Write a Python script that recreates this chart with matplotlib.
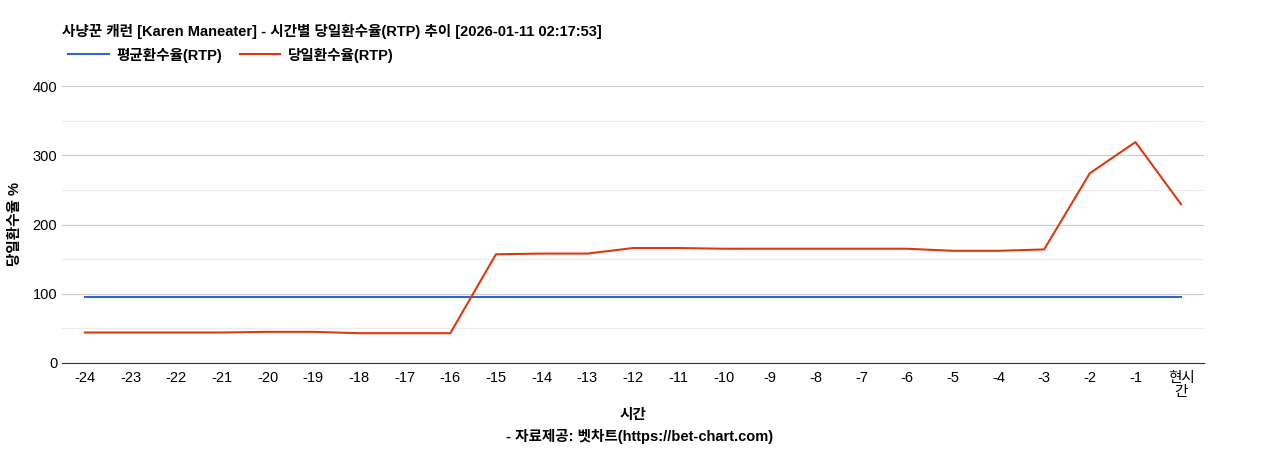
import matplotlib
matplotlib.use("Agg")
import matplotlib.pyplot as plt

plt.rcParams['font.family'] = ['Liberation Sans', 'Noto Sans CJK KR', 'DejaVu Sans']

labels = [str(i) for i in range(-24, 0)] + ["현시\n간"]
rtp_day = [44, 44, 44, 44, 45, 45, 43, 43, 43, 157, 158, 158, 166, 166, 165, 165, 165, 165, 165, 162, 162, 164, 274, 319, 229]
rtp_avg = [96] * 25

fig = plt.figure(figsize=(12.68, 4.5), dpi=100)
ax = fig.add_axes([62/1268, 1-363/450, (1204-62)/1268, 277/450])
x = list(range(len(labels)))
ax.plot(x, rtp_avg, color='#3366cc', lw=1.5, label='평균환수율(RTP)')
ax.plot(x, rtp_day, color='#dc3912', lw=1.5, label='당일환수율(RTP)')
ax.set_xlim(-0.5, len(labels) - 0.5)
ax.set_ylim(0, 400)
ax.set_yticks([0, 100, 200, 300, 400])
ax.set_yticks([50, 150, 250, 350], minor=True)
ax.grid(axis='y', which='major', color='#cccccc', lw=0.8)
ax.grid(axis='y', which='minor', color='#ebebeb', lw=0.8)
ax.tick_params(axis='y', which='both', length=0, labelsize=10.5)
ax.set_xticks(x)
ax.set_xticklabels(labels, fontsize=10.5, linespacing=1.0)
ax.tick_params(axis='x', length=0, pad=6)
for s in ['top', 'right', 'left']:
    ax.spines[s].set_visible(False)
ax.spines['bottom'].set_color('#333333')
ax.set_axisbelow(True)
fig.text(15/1268, 1-224/450, '당일환수율 %', rotation=90, ha='center', va='center', fontsize=10.5, fontweight='bold')
fig.text(633/1268, 1-415/450, '시간', ha='center', va='center', fontsize=10.5, fontweight='bold')
fig.text(640/1268, 1-437/450, '- 자료제공: 벳차트(https://bet-chart.com)', ha='center', va='center', fontsize=10.5, fontweight='bold')
fig.text(62/1268, 1-31/450, '사냥꾼 캐런 [Karen Maneater] - 시간별 당일환수율(RTP) 추이 [2026-01-11 02:17:53]',
         ha='left', va='center', fontsize=10.5, fontweight='bold')
fig.legend(loc='center left', bbox_to_anchor=(55/1268, 1-55/450), ncol=2, frameon=False,
           prop={'weight': 'bold', 'size': 10.5}, handlelength=2.8, columnspacing=1.2, handletextpad=0.5)
fig.savefig('out.png', dpi=100)
